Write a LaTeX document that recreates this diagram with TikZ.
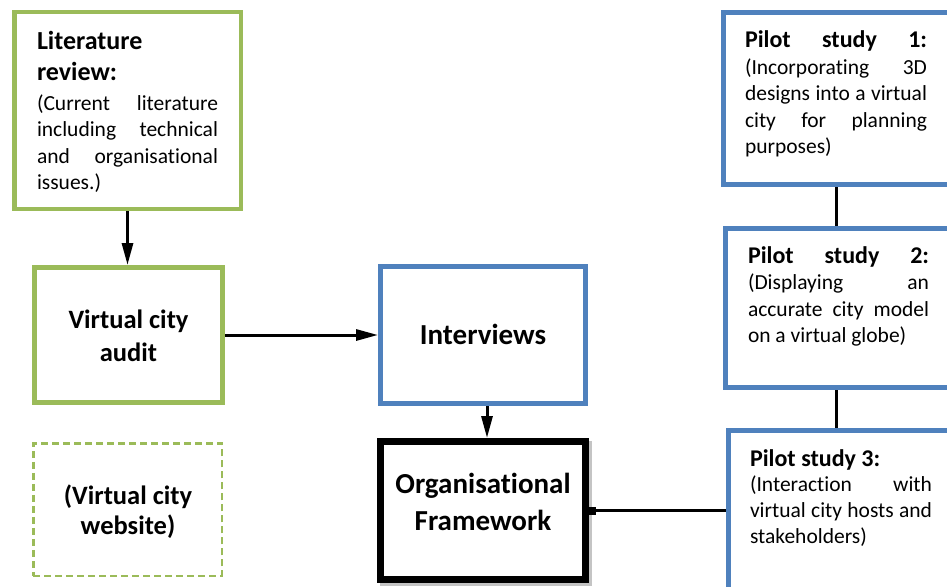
\documentclass[tikz,border=0pt]{standalone}
\usepackage{fontspec}
\setmainfont{Carlito}[Ligatures={NoCommon}]
\usetikzlibrary{arrows.meta,backgrounds}
\definecolor{mygreen}{HTML}{9BBB59}
\definecolor{myblue}{HTML}{4F81BD}
\definecolor{shadowgray}{HTML}{C4C4C4}
\newcommand{\bodyf}{\fontsize{21.5}{26}\selectfont}
\newcommand{\titlef}{\bfseries\fontsize{24}{29}\selectfont}
\newcommand{\littitlef}{\bfseries\fontsize{26}{31}\selectfont}
\newcommand{\bigbf}{\bfseries\fontsize{26.5}{32}\selectfont}
\newcommand{\hugebf}{\bfseries\fontsize{29}{35}\selectfont}
\newcommand{\lines}[2]{\vtop{\baselineskip=#1\lineskiplimit=-\maxdimen\lineskip=0pt #2}}
\newcommand{\jline}[2]{\hbox to #1{#2}}
\newcommand{\cln}[1]{\hbox to 0pt{\hss #1\hss}}
\hbadness=10000
\begin{document}
\begin{tikzpicture}[x=1pt,y=-1pt,
  box/.style={draw, rectangle, inner sep=0pt, fill=white},
  greenbox/.style={box, draw=mygreen, line width=4.5pt},
  bluebox/.style={box, draw=myblue, line width=5pt},
  conn/.style={line width=3pt, black},
  tip/.style={-{Triangle[length=22pt,width=11pt]}},
  txt/.style={inner sep=0pt, outer sep=0pt, anchor=base west},
  ctxt/.style={inner sep=0pt, outer sep=0pt, anchor=base}]
\useasboundingbox (0,0) rectangle (947,586);
\clip (0,0) rectangle (947,586);

% boxes
\node[greenbox, minimum width=226.5pt, minimum height=196.5pt] (lit) at (127.5,110.5) {};
\node[greenbox, line width=5pt, minimum width=188pt, minimum height=135pt] (audit) at (128.5,335) {};
\node[bluebox, minimum width=205pt, minimum height=137pt] (interviews) at (483,335) {};
\node[box, draw=black, line width=7pt, minimum width=205pt, minimum height=138pt] (org) at (483,510.5) {};
\node[box, draw=mygreen, line width=2.5pt, dash pattern=on 7pt off 4pt, minimum width=188.5pt, minimum height=132.5pt] (website) at (127.5,509.5) {};
\node[bluebox, minimum width=234pt, minimum height=172pt] (pilot1) at (840.5,98.5) {};
\node[bluebox, minimum width=232pt, minimum height=159pt] (pilot2) at (841.5,308) {};
\node[bluebox, minimum width=229pt, minimum height=167pt] (pilot3) at (843,514) {};

\begin{scope}[on background layer]
  \fill[white] (0,0) rectangle (947,586);
  \fill[shadowgray] ([shift={(3,3)}]org.south west) rectangle ([shift={(3,3)}]org.north east);
\end{scope}

% texts
\node[txt] (littext) at (37,50) {\lines{26.5pt}{%
  \hbox{\littitlef Literature}\kern3.5pt
  \hbox{\littitlef review:}\kern3.5pt
  \jline{181pt}{\bodyf (Current literature}
  \jline{181pt}{\bodyf including technical}
  \jline{181pt}{\bodyf and organisational}
  \hbox{\bodyf issues.)}}};

\node[ctxt] (audittext) at (128.5,328) {\lines{33pt}{%
  \cln{\bigbf Virtual city}
  \cln{\bigbf audit}}};

\node[ctxt] (interviewstext) at (483,344) {\cln{\hugebf Interviews}};

\node[ctxt] (orgtext) at (483,493) {\lines{37pt}{%
  \cln{\hugebf Organisational}
  \cln{\hugebf Framework}}};

\node[ctxt] (websitetext) at (128,504) {\lines{30pt}{%
  \cln{\bigbf (Virtual city}
  \cln{\bigbf website)}}};

\node[txt] (p1text) at (745,48) {\lines{26.5pt}{%
  \jline{182pt}{\titlef Pilot study 1:}
  \jline{182pt}{\bodyf (Incorporating 3D}
  \jline{182pt}{\bodyf designs into a virtual}
  \jline{182pt}{\bodyf city for planning}
  \hbox{\bodyf purposes)}}};

\node[txt] (p2text) at (748,263) {\lines{26.5pt}{%
  \jline{181pt}{\titlef Pilot study 2:}
  \jline{181pt}{\bodyf (Displaying an}
  \jline{181pt}{\bodyf accurate city model}
  \hbox{\bodyf on a virtual globe)}}};

\node[txt] (p3text) at (750,466) {\lines{25.7pt}{%
  \hbox{\titlef Pilot study 3:}
  \jline{182pt}{\bodyf (Interaction with}
  \jline{182pt}{\bodyf virtual city hosts and}
  \hbox{\bodyf stakeholders)}}};

% connectors
\coordinate (ix) at (487,0);
\coordinate (px) at (836,0);
\draw[conn,tip] (lit.south) -- (lit.south |- audit.north);
\draw[conn,tip] (audit.east) -- (interviews.west);
\draw[conn,tip] (interviews.south -| ix) -- (org.north -| ix);
\draw[conn] (pilot1.south -| px) -- (pilot2.north -| px);
\draw[conn] (pilot2.south -| px) -- (pilot3.north -| px);
\draw[conn,{Square[length=7pt,width=8pt]}-] (org.east) -- (pilot3.west |- org.east);
\end{tikzpicture}
\end{document}
